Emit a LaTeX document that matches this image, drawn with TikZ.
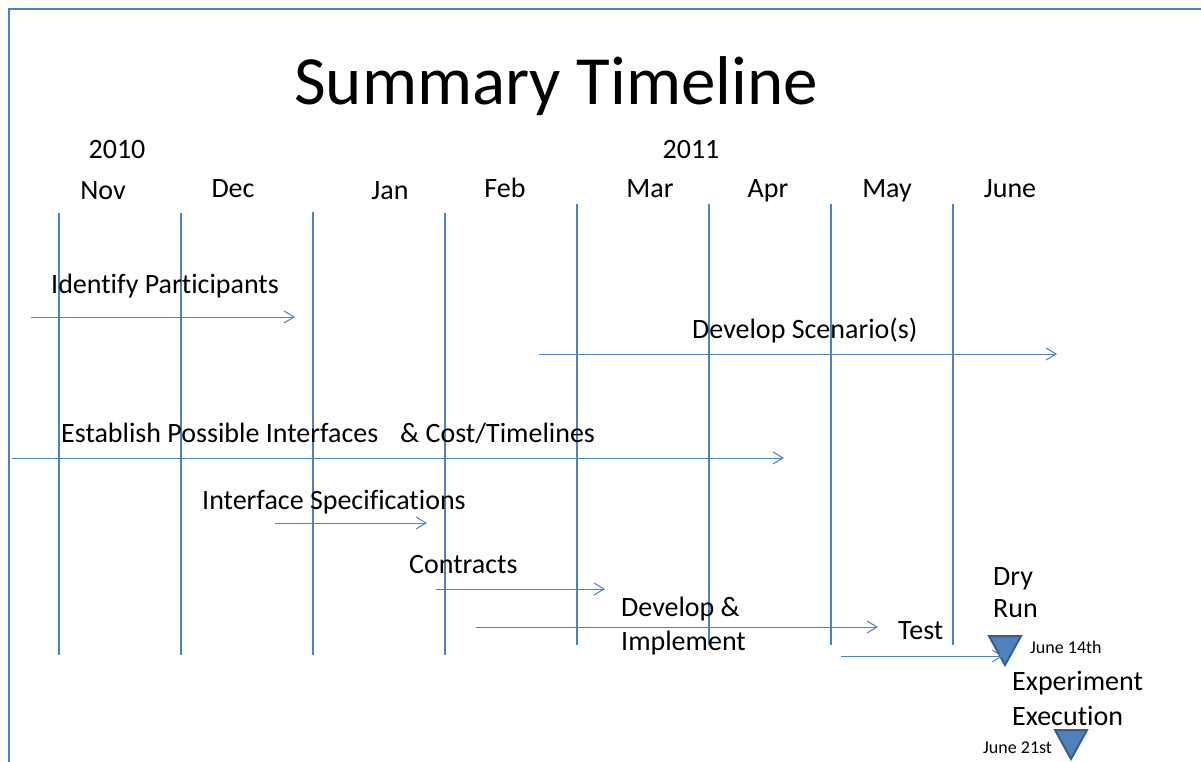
\documentclass[tikz,border=0pt]{standalone}
\usepackage{fontspec}
\setmainfont{Carlito}[Ligatures=NoCommon]
\usetikzlibrary{arrows.meta}
\definecolor{office}{HTML}{4F81BD}
\definecolor{officedark}{HTML}{385D8A}
\begin{document}
\begin{tikzpicture}[x=1pt,y=-1pt,
  lbl/.style={inner sep=0pt,anchor=base west,font=\fontsize{28}{33}\selectfont},
  mon/.style={inner sep=0pt,anchor=base,font=\fontsize{28}{33}\selectfont},
  small/.style={inner sep=0pt,anchor=base west,font=\fontsize{18}{20}\selectfont},
  grid/.style={draw=office,line width=1.2pt},
  bar/.style={draw=office,line width=1pt,-{Straight Barb[length=10pt,width=12pt,line width=1pt]}},
  tri/.style={fill=office,draw=officedark,line width=2pt,line join=miter}
]
\useasboundingbox (0,0) rectangle (1201,762);
\fill[white] (0,0) rectangle (1201,762);
% frame
\draw[office,line width=2pt] (9,762) -- (9,9) -- (1201,9);

% title
\node[inner sep=0pt,anchor=base,font=\fontsize{69}{72}\selectfont] (title) at (556,105) {Summary Timeline};

% years
\node[mon] (y2010) at (117,159) {2010};
\node[mon] (y2011) at (691,159) {2011};

% months
\node[mon] (nov) at (103,200) {Nov};
\node[mon] (dec) at (233,197) {Dec};
\node[mon] (jan) at (390,200) {Jan};
\node[mon] (feb) at (505,197) {Feb};
\node[mon] (mar) at (650,197) {Mar};
\node[mon] (apr) at (768,197) {Apr};
\node[mon] (may) at (887,197) {May};
\node[mon] (jun) at (1010,197) {June};

% grid lines
\draw[grid] (59,213) -- (59,655);
\draw[grid] (181,213) -- (181,655);
\draw[grid,line width=2.2pt] (313,212) -- (313,655);
\draw[grid] (445,213) -- (445,655);
\draw[grid] (577,204) -- (577,645);
\draw[grid] (709,204) -- (709,645);
\draw[grid] (831,204) -- (831,645);
\draw[grid] (953,204) -- (953,645);

% labels
\node[lbl] (ident) at (51,293) {Identify Participants};
\node[lbl] (scen) at (692,338) {Develop Scenario(s)};
\node[lbl] (estab) at (61,442) {Establish Possible Interfaces};
\node[lbl] (cost) at (400,442) {\& Cost/Timelines};
\node[lbl] (spec) at (202,509) {Interface Specifications};
\node[lbl] (contr) at (409,573) {Contracts};
\node[lbl] (dev1) at (621,616) {Develop \&};
\node[lbl] (dev2) at (621,650) {Implement};
\node[lbl] (test) at (898,639) {Test};
\node[lbl] (dry) at (993,585) {Dry};
\node[lbl] (run) at (993,617) {Run};
\node[lbl] (exp1) at (1012,690) {Experiment};
\node[lbl] (exp2) at (1012,725) {Execution};
\node[small] (d14) at (1030,653) {June 14th};
\node[small] (d21) at (983,753) {June 21st};

% milestones
\draw[tri] (989,636) -- (1021,636) -- (1005,665) -- cycle;
\draw[tri] (1055,730) -- (1087,730) -- (1071,759) -- cycle;

% bars
\coordinate (a1) at (31,317);  \coordinate (a2) at (295,317);
\coordinate (b1) at (539,354); \coordinate (b2) at (1057,354);
\coordinate (c1) at (12,458);  \coordinate (c2) at (784,458);
\coordinate (d1) at (275,523); \coordinate (d2) at (427,523);
\coordinate (e1) at (436,589); \coordinate (e2) at (605,589);
\coordinate (f1) at (476,627); \coordinate (f2) at (878,627);
\coordinate (g1) at (841,656); \coordinate (g2) at (1003,656);
\draw[bar] (a1) -- (a2);
\draw[bar] (b1) -- (b2);
\draw[bar] (c1) -- (c2);
\draw[bar] (d1) -- (d2);
\draw[bar] (e1) -- (e2);
\draw[bar] (f1) -- (f2);
\draw[bar] (g1) -- (g2);
\end{tikzpicture}
\end{document}
